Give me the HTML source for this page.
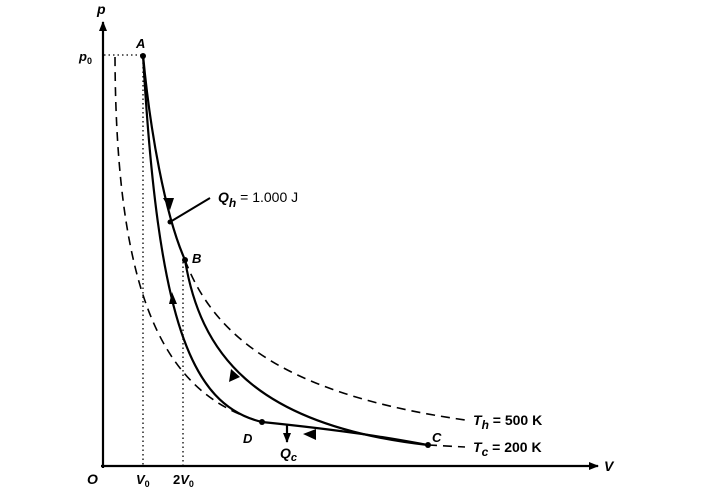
<!DOCTYPE html>
<html><head><style>body{margin:0;background:#fff}svg{display:block}text{font-family:"Liberation Sans",sans-serif;font-style:italic;font-weight:bold;fill:#000}</style></head><body>
<svg width="708" height="494" viewBox="0 0 708 494" xmlns="http://www.w3.org/2000/svg">
<defs><marker id="ar" markerWidth="10" markerHeight="8" refX="9" refY="4" orient="auto" markerUnits="userSpaceOnUse"><path d="M0,0 L10,4 L0,8 Z" fill="#000"/></marker></defs>
<g stroke="#000" fill="none">
<line x1="103" y1="468" x2="103" y2="22" stroke-width="2.2" marker-end="url(#ar)"/>
<line x1="101" y1="466" x2="598" y2="466" stroke-width="2.2" marker-end="url(#ar)"/>
<g stroke-width="1.3" stroke-dasharray="1.5,3">
<line x1="104" y1="55" x2="143" y2="55"/>
<line x1="143" y1="58" x2="143" y2="466"/>
<line x1="183" y1="262" x2="183" y2="466"/>
</g>
<g stroke-width="1.6" stroke-dasharray="9,6">
<path d="M115,57 C116,300 165,395 262,422"/>
<path d="M185,260 C215,340 290,395 465,420"/>
<path d="M428,445 L465,447"/>
</g>
<g stroke-width="2.2">
<path d="M143,55 C150,130 165,215 185,260"/>
<path d="M185,260 C200,350 250,425 428,445"/>
<path d="M262,422 C360,432 400,440 428,445"/>
<path d="M262,422 C190,405 158,320 143,55"/>
<line x1="170" y1="222" x2="210" y2="198" stroke-width="2"/>
<line x1="287" y1="424" x2="287" y2="442" marker-end="url(#ar)"/>
</g>
</g>
<g fill="#000">
<circle cx="143" cy="56" r="3"/><circle cx="185" cy="260" r="3"/><circle cx="170" cy="222" r="2.5"/><circle cx="262" cy="422" r="3"/><circle cx="428" cy="445" r="3"/>
<path d="M163,198 L174,198 L170,210 Z"/>
<path d="M231,369 L240,377 L229,382 Z"/>
<path d="M169,304 L177,304 L172,292 Z"/>
<path d="M303,434 L316,429 L316,440 Z"/>
</g>
<text x="97" y="14" font-size="14">p</text>
<text x="79" y="61" font-size="13">p<tspan font-size="9" dy="3" font-style="normal">0</tspan></text>
<text x="136" y="48" font-size="13">A</text>
<text x="192" y="263" font-size="13">B</text>
<text x="432" y="442" font-size="13">C</text>
<text x="243" y="443" font-size="13">D</text>
<text x="87" y="484" font-size="14" font-style="normal">O</text>
<text x="136" y="484" font-size="13">V<tspan font-size="9" dy="3" font-style="normal">0</tspan></text>
<text x="173" y="484" font-size="13"><tspan font-style="normal">2</tspan>V<tspan font-size="9" dy="3" font-style="normal">0</tspan></text>
<text x="604" y="471" font-size="14">V</text>
<text x="218" y="202" font-size="14">Q<tspan font-size="12" dy="5">h</tspan><tspan dy="-5" font-style="normal" font-weight="normal"> = 1.000 J</tspan></text>
<text x="280" y="458" font-size="14">Q<tspan font-size="11" dy="3">c</tspan></text>
<text x="473" y="425" font-size="14">T<tspan font-size="12" dy="4">h</tspan><tspan dy="-4" font-style="normal"> = 500 K</tspan></text>
<text x="473" y="452" font-size="14">T<tspan font-size="12" dy="4">c</tspan><tspan dy="-4" font-style="normal"> = 200 K</tspan></text>
</svg>
</body></html>
